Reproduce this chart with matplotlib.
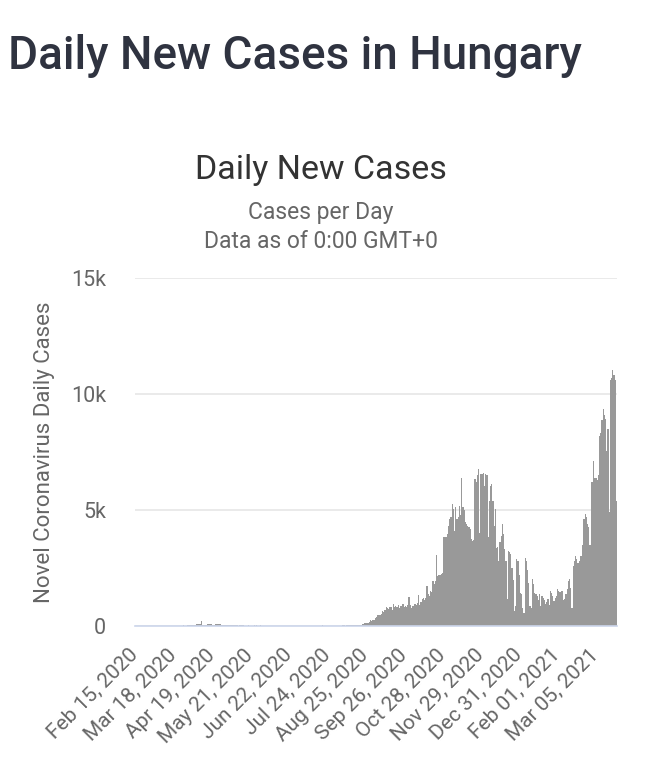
import numpy as np
import pandas as pd
import matplotlib
matplotlib.use("Agg")
import matplotlib.pyplot as plt
import matplotlib.transforms as mtransforms

# ---------------- data ----------------
start_date = "2020-02-15"
pre_outbreak = [0] * 18  # Feb 15 - Mar 3, 2020
mar_2020 = [2, 0, 1, 1, 2, 3, 3, 4, 9, 3, 2, 11, 8, 11, 15, 12, 20, 9, 18, 19,
            14, 20, 23, 20, 11, 53, 29, 34]
apr_2020 = [33, 38, 38, 41, 52, 77, 73, 80, 78, 210, 61, 48, 53, 58, 68, 85, 84, 76,
            33, 36, 36, 74, 65, 93, 86, 101, 62, 53, 48, 61]
may_2020 = [56, 49, 42, 23, 36, 35, 39, 35, 25, 27, 20, 25, 30, 27, 25, 20, 17, 20,
            26, 12, 15, 16, 17, 25, 14, 22, 20, 19, 25, 20, 18]
jun_2020 = [14, 8, 11, 6, 7, 2, 12, 5, 4, 6, 8, 6, 3, 8, 5, 2, 4, 4, 6, 5, 7, 4, 5, 7,
            3, 6, 7, 3, 3, 2]
jul_2020 = [8, 4, 7, 6, 14, 8, 4, 15, 13, 10, 12, 18, 5, 15, 9, 10, 13, 5, 8, 22, 5, 8,
            20, 16, 7, 3, 9, 10, 12, 6, 17]
aug_2020 = [14, 21, 17, 11, 20, 24, 25, 14, 25, 29, 43, 32, 35, 37, 36, 30, 51, 47, 40,
            45, 53, 80, 90, 120]
second_wave = [
    130, 143, 150, 180, 245, 230, 260, 250, 360, 380,
    475, 480, 460, 500, 650, 600, 700, 820, 780, 720,
    800, 840, 700, 965, 830, 880, 820, 900, 780, 870,
    850, 950, 800, 880, 840, 920, 1250, 900, 780, 850,
    880, 960, 900, 980, 1325, 920, 1050, 1150, 1200, 1100,
    1220, 1730, 1370, 1300, 1500, 1450, 1945, 1800, 1950, 3050,
    2160, 2180, 2200, 2250, 2300, 3815, 3820, 3850, 3960, 4300,
    4600, 4700, 5250, 5040, 4100, 5110, 4600, 4700, 5180, 4800,
    6400, 5110, 5000, 4470, 4400, 4300, 4250, 4180, 3745, 3670,
    3700, 6340, 6200, 6500, 6770, 4030, 6550, 6550, 6600, 6050,
    6550, 6500, 3815, 5400, 6050, 6120, 5400, 4300, 5040, 3380,
    3400, 2800, 3600, 3890, 4390, 3960, 3300, 2800, 1150, 3240,
    3200, 3100, 2520, 2000, 650, 865, 2880, 2800, 2200, 1440,
    1370, 790, 575, 2950, 2800, 2400, 1870, 865, 790, 2015,
    1800, 1440, 1370, 1300, 1100, 1370, 865, 1300, 1225, 1100,
    940, 1050, 1150, 900, 1510, 1440, 1300, 1080, 1200, 1300,
    1585, 1510, 1450, 1500, 1510, 1100, 1150, 1400, 1600, 1945,
    2015, 1650, 790, 2600, 2800, 3020, 2900, 2700, 2800, 3020,
    3000, 3500, 4600, 4825, 4700, 4390, 4250, 3500, 6190, 6190,
    7130, 6400, 6400, 6300, 6500, 8210, 8300, 8860, 9360, 9100,
    8930, 7560, 8500, 4900, 10585, 10700, 11015, 10800, 10585, 5400,
]
daily_cases = (pre_outbreak + mar_2020 + apr_2020 + may_2020 + jun_2020 +
               jul_2020 + aug_2020 + second_wave)
dates = pd.date_range(start_date, periods=len(daily_cases), freq="D")

tick_labels = ["Feb 15, 2020", "Mar 18, 2020", "Apr 19, 2020", "May 21, 2020",
               "Jun 22, 2020", "Jul 24, 2020", "Aug 25, 2020", "Sep 26, 2020",
               "Oct 28, 2020", "Nov 29, 2020", "Dec 31, 2020", "Feb 01, 2021",
               "Mar 05, 2021"]
y_ticks = [0, 5000, 10000, 15000]
y_tick_labels = ["0", "5k", "10k", "15k"]

# ---------------- figure ----------------
plt.rcParams["font.family"] = ["Roboto", "DejaVu Sans"]
W, H = 648, 768
fig = plt.figure(figsize=(W / 100, H / 100), dpi=100)

left, right, top, bottom = 135, 617, 278, 626
ax = fig.add_axes([left / W, 1 - bottom / H, (right - left) / W, (bottom - top) / H])

x = np.arange(len(daily_cases))
ax.bar(x, daily_cases, width=1.0, color="#999999", edgecolor="none", zorder=2)

ax.set_xlim(-0.5, len(daily_cases) - 0.5)
ax.set_ylim(0, 15000)

date_strs = list(dates.strftime("%b %d, %Y"))
tick_pos = [date_strs.index(lbl) for lbl in tick_labels]
ax.set_xticks(tick_pos)
ax.set_xticklabels(tick_labels, rotation=45, ha="right", va="top",
                   rotation_mode="anchor", fontsize=15, color="#666666")
ax.tick_params(axis="x", length=0, pad=14)
shift = mtransforms.ScaledTranslation(-7 / 100, 0, fig.dpi_scale_trans)
for lab in ax.get_xticklabels():
    lab.set_transform(lab.get_transform() + shift)

ax.set_yticks(y_ticks)
ax.set_yticklabels(y_tick_labels, fontsize=15.5, color="#666666")
ax.tick_params(axis="y", length=0, pad=21)

ax.grid(axis="y", color="#e6e6e6", linewidth=1.2, zorder=0)
for s in ["top", "right", "left"]:
    ax.spines[s].set_visible(False)
ax.spines["bottom"].set_color("#ccd6eb")
ax.spines["bottom"].set_linewidth(1.2)
ax.spines["bottom"].set_zorder(3)

fig.text(45 / W, 1 - 452 / H, "Novel Coronavirus Daily Cases", rotation=90,
         ha="center", va="center", fontsize=16, color="#666666")

fig.text(8 / W, 1 - 69 / H, "Daily New Cases in Hungary", ha="left", va="baseline",
         fontsize=33, fontweight="medium", color="#2f3340")
fig.text(321 / W, 1 - 170 / H, "Daily New Cases", ha="center", va="center",
         fontsize=24.5, color="#333333")
fig.text(321 / W, 1 - 213 / H, "Cases per Day", ha="center", va="center",
         fontsize=16.5, color="#666666")
fig.text(321 / W, 1 - 241 / H, "Data as of 0:00 GMT+0", ha="center", va="center",
         fontsize=16.5, color="#666666")

fig.savefig("out.png", dpi=100, facecolor="white")
